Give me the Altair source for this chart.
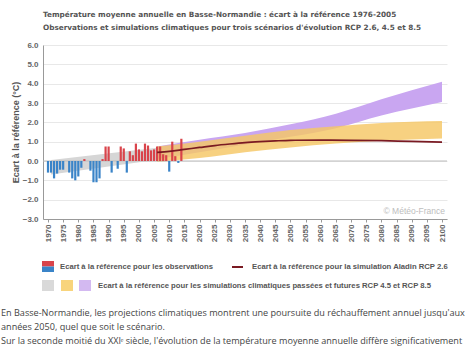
import altair as alt
import pandas as pd

# ---------------- data ----------------
obs_years = list(range(1970, 2015))
obs_values = [-0.6, -0.6, -0.9, -0.65, -0.45, -0.45, 0.0, -0.6, -0.9, -1.0,
              -0.8, -0.35, 0.1, 0.0, -0.5, -1.1, -1.1, -0.9, 0.1, 0.75,
              0.75, -0.6, 0.0, -0.4, 0.75, 0.65, -0.6, 0.5, 0.3, 0.9,
              0.6, 0.5, 0.9, 0.8, 0.55, 0.6, 0.75, 0.75, 0.35, 0.3,
              -0.55, 1.0, 0.25, -0.1, 1.15]

hist_years = [1971, 2006]
hist_low = [-0.7, 0.06]
hist_high = [0.05, 0.69]

band_years = [2006, 2020, 2035, 2050, 2065, 2080, 2100]
rcp45_low = [-0.05, 0.15, 0.45, 0.7, 0.9, 1.05, 1.17]
rcp45_high = [0.75, 1.0, 1.3, 1.6, 1.8, 1.97, 2.07]
rcp85_low = [0.1, 0.45, 0.85, 1.25, 1.7, 2.35, 3.05]
rcp85_high = [0.75, 1.1, 1.45, 1.9, 2.45, 3.2, 4.1]

aladin_years = [2006, 2010, 2015, 2020, 2025, 2030, 2035, 2040, 2045, 2050,
                2060, 2070, 2080, 2090, 2100]
aladin_values = [0.45, 0.5, 0.6, 0.7, 0.8, 0.88, 0.95, 1.0, 1.04, 1.07,
                 1.08, 1.07, 1.05, 1.01, 0.98]

x_ticks = list(range(1970, 2101, 5))
y_ticks = [-3, -2, -1, 0, 1, 2, 3, 4, 5, 6]

title_lines = [
    "Température moyenne annuelle en Basse-Normandie : écart à la référence 1976-2005",
    "Observations et simulations climatiques pour trois scénarios d'évolution RCP 2.6, 4.5 et 8.5",
]
legend_labels = [
    "Ecart à la référence pour les observations",
    "Ecart à la référence pour la simulation Aladin RCP 2.6",
    "Ecart à la référence pour les simulations climatiques passées et futures RCP 4.5 et RCP 8.5",
]
paragraph = [
    "En Basse-Normandie, les projections climatiques montrent une poursuite du réchauffement annuel jusqu'aux",
    "années 2050, quel que soit le scénario.",
    "Sur la seconde moitié du XXIᵉ siècle, l'évolution de la température moyenne annuelle diffère significativement",
]
y_title = "Ecart à la référence (°C)"

# ---------------- tables ----------------
obs = pd.DataFrame({"year": obs_years, "v": obs_values})
obs["sign"] = ["pos" if v >= 0 else "neg" for v in obs_values]
hist = pd.DataFrame({"year": hist_years, "low": hist_low, "high": hist_high})
r45 = pd.DataFrame({"year": band_years, "low": rcp45_low, "high": rcp45_high})
r85 = pd.DataFrame({"year": band_years, "low": rcp85_low, "high": rcp85_high})
ala = pd.DataFrame({"year": aladin_years, "v": aladin_values})
one = pd.DataFrame({"z": [0]})

W, H = 404, 174
xs = alt.Scale(domain=[1970, 2100], nice=False, zero=False)
ys = alt.Scale(domain=[-3, 6], nice=False, zero=False)

xaxis = alt.Axis(values=x_ticks, format="d", labelAngle=270, labelAlign="right",
                 labelBaseline="middle", labelFontSize=8, labelFontWeight="bold",
                 labelColor="#666", labelFont="Liberation Sans", domainColor="#999",
                 tickColor="#999", tickSize=3, grid=False, labelPadding=2,
                 labelOverlap=False, title=None)
yaxis = alt.Axis(values=y_ticks, format=".1f", labelFontSize=8, labelFontWeight="bold",
                 labelColor="#666", labelFont="Liberation Sans", domainColor="#999",
                 ticks=False, grid=True, gridColor="#e8e8e8", labelPadding=5,
                 title=y_title, titleFontSize=9, titleFont="Liberation Sans",
                 titleFontWeight="bold", titleColor="#555", titlePadding=2)

X = lambda f: alt.X(f"{f}:Q", scale=xs, axis=xaxis)

hist_l = alt.Chart(hist).mark_area(color="#d6d6d6").encode(
    x=X("year"), y=alt.Y("low:Q", scale=ys, axis=yaxis), y2="high:Q")
r85_l = alt.Chart(r85).mark_area(color="#c9a6f1", interpolate="monotone").encode(
    x=X("year"), y=alt.Y("low:Q", scale=ys, axis=yaxis), y2="high:Q")
r45_l = alt.Chart(r45).mark_area(color="#f5c765", opacity=0.82, interpolate="monotone").encode(
    x=X("year"), y=alt.Y("low:Q", scale=ys, axis=yaxis), y2="high:Q")
zero_l = alt.Chart(one).mark_rule(color="#bdbdbd", strokeWidth=1).encode(
    y=alt.Y("z:Q", scale=ys, axis=yaxis))
bars = alt.Chart(obs).mark_bar(size=2.2, orient="vertical").encode(
    x=X("year"), y=alt.Y("v:Q", scale=ys, axis=yaxis),
    color=alt.Color("sign:N", scale=alt.Scale(domain=["pos", "neg"], range=["#d9444b", "#3a84c8"]), legend=None))
line = alt.Chart(ala).mark_line(color="#7a1a22", strokeWidth=1.7, interpolate="monotone").encode(
    x=X("year"), y=alt.Y("v:Q", scale=ys, axis=yaxis))


def txt(s, x, y, size=8, weight="normal", color="#555", font="Liberation Sans", align="left"):
    return alt.Chart(one).mark_text(text=s, align=align, baseline="middle", fontSize=size,
                                    fontWeight=weight, color=color, font=font).encode(
        x=alt.value(x), y=alt.value(y))


def rect(x1, x2, y1, y2, color):
    return alt.Chart(one).mark_rect(color=color).encode(
        x=alt.value(x1), x2=alt.value(x2), y=alt.value(y1), y2=alt.value(y2))


ox, oy = 43, 45  # plot origin in page pixels
layers = [hist_l, r85_l, r45_l, zero_l, bars, line]
layers += [
    txt(title_lines[0], 0, 15 - oy, size=7.3, weight="bold", font="DejaVu Sans"),
    txt(title_lines[1], 0, 28 - oy, size=7.3, weight="bold", font="DejaVu Sans"),
    txt("© Météo-France", W - 2, 211 - oy, size=8.5, color="#bdbdbd", align="right"),
    rect(42 - ox, 54 - ox, 261 - oy, 266.5 - oy, "#d9444b"),
    rect(42 - ox, 54 - ox, 266.5 - oy, 272 - oy, "#3a84c8"),
    txt(legend_labels[0], 60 - ox, 267 - oy, size=7.7, weight="bold"),
    alt.Chart(one).mark_rule(color="#7a1a22", strokeWidth=2).encode(
        x=alt.value(232 - ox), x2=alt.value(243 - ox), y=alt.value(267 - oy)),
    txt(legend_labels[1], 252 - ox, 267 - oy, size=7.7, weight="bold"),
    rect(42 - ox, 54 - ox, 280 - oy, 291 - oy, "#d9d9d9"),
    rect(61 - ox, 73 - ox, 280 - oy, 291 - oy, "#f8d47c"),
    rect(79 - ox, 91 - ox, 280 - oy, 291 - oy, "#d3b9f1"),
    txt(legend_labels[2], 98 - ox, 285.5 - oy, size=7.7, weight="bold"),
    txt(paragraph[0], 1 - ox, 313 - oy, size=9.1, color="#444", font="Open Sans"),
    txt(paragraph[1], 1 - ox, 327 - oy, size=9.1, color="#444", font="Open Sans"),
    txt(paragraph[2], 1 - ox, 341 - oy, size=9.1, color="#444", font="Open Sans"),
]

chart = alt.layer(*layers).properties(
    width=W, height=H, autosize="none",
    padding={"left": ox, "top": oy, "right": 474 - ox - W, "bottom": 351 - oy - H},
    background="white",
).configure_view(stroke=None)

chart.save("out.html", embed_options={"renderer": "svg", "actions": False})
